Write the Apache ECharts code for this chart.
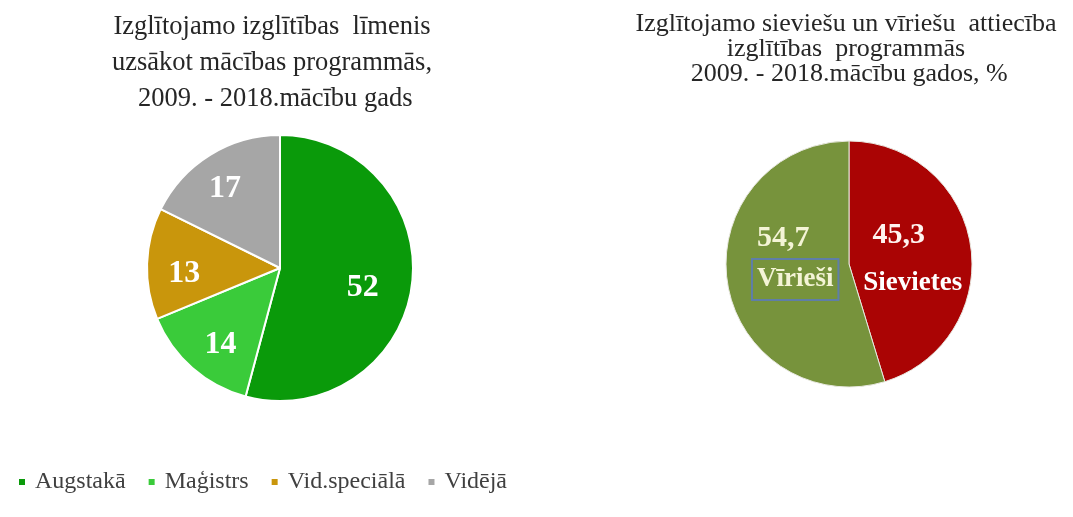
<!DOCTYPE html>
<html>
<head>
<meta charset="utf-8">
<script src="https://cdn.jsdelivr.net/npm/echarts@6/dist/echarts.min.js"></script>
<style>
  html, body { margin: 0; padding: 0; background: #fff; }
  #chart { width: 1073px; height: 517px; }
</style>
</head>
<body>
<div id="chart"></div>
<script>
// kreisais grafiks - izglitibas limenis
const levelNames = ['Augstakā', 'Maģistrs', 'Vid.speciālā', 'Vidējā']
const levelValues = [52, 14, 13, 17]
// labais grafiks - sievietes / virieši, %
const genderNames = ['Sievietes', 'Vīrieši']
const genderValues = [45.3, 54.7]
const genderLabels = ['45,3', '54,7']

const levelColors = ['#0a9a0a', '#3acb3a', '#c9960c', '#a6a6a6']
const genderColors = ['#aa0404', '#77933c']

const serif = '"Liberation Serif", "DejaVu Serif", serif'
const leftCenter = [280, 268]
const leftR = 133
const rightCenter = [849, 264]
const rightR = 123
// cik talu no centra (dala no radiusa) stav uzraksti
const leftLabelR = [0.6, 0.65, 0.69, 0.75]
// labā grafika uzrakstu nobīde
const rightLabelShift = [[0, 5], [10, -19]]

const myChart = echarts.init(document.getElementById('chart'))

const options = {
  animation: false,
  color: levelColors,
  title: [{
    text: 'Izglītojamo izglītības  līmenis\nuzsākot mācības programmās,\n 2009. - 2018.mācību gads',
    left: 272,
    top: 9,
    padding: 0,
    textAlign: 'center',
    textStyle: {
      fontFamily: serif,
      fontWeight: 'normal',
      fontSize: 26.5,
      lineHeight: 36,
      color: '#262626'
    }
  }, {
    text: 'Izglītojamo sieviešu un vīriešu  attiecība\nizglītības  programmās\n 2009. - 2018.mācību gados, %',
    left: 846,
    top: 12,
    padding: 0,
    textAlign: 'center',
    textStyle: {
      fontFamily: serif,
      fontWeight: 'normal',
      fontSize: 26,
      lineHeight: 25,
      color: '#262626'
    }
  }],
  legend: {
    data: levelNames,
    left: 17,
    top: 470,
    padding: 0,
    icon: 'rect',
    itemWidth: 8,
    itemHeight: 8,
    itemGap: 21,
    textStyle: {
      fontFamily: serif,
      fontSize: 24,
      color: '#404040',
      padding: [0, 0, 0, 4]
    }
  },
  series: [{
    type: 'pie',
    center: leftCenter,
    radius: [0, leftR],
    startAngle: 90,
    clockwise: true,
    data: levelNames.map((n, i) => ({ name: n, value: levelValues[i] })),
    itemStyle: {
      borderColor: '#ffffff',
      borderWidth: 2
    },
    label: {
      show: true,
      position: 'inside',
      formatter: '{c}',
      fontFamily: serif,
      fontWeight: 'bold',
      fontSize: 32,
      color: '#ffffff'
    },
    labelLayout: function (params) {
      const r = params.labelRect
      const lx = r.x + r.width / 2
      const ly = r.y + r.height / 2
      const k = 2 * leftLabelR[params.dataIndex] - 1
      return { dx: (lx - leftCenter[0]) * k, dy: (ly - leftCenter[1]) * k + 9 }
    },
    emphasis: { disabled: true }
  }, {
    type: 'pie',
    center: rightCenter,
    radius: [0, rightR],
    startAngle: 90,
    clockwise: true,
    data: genderNames.map((n, i) => ({
      name: n,
      value: genderValues[i],
      itemStyle: { color: genderColors[i] }
    })),
    itemStyle: {
      borderColor: '#e8e8e0',
      borderWidth: 1
    },
    label: {
      show: true,
      position: 'inside',
      formatter: function (p) {
        if (p.dataIndex === 1) {
          return '{v|' + genderLabels[1] + '}\n{box|' + p.name + '}'
        }
        return '{s|' + genderLabels[0] + '}\n{n|' + p.name + '}'
      },
      fontFamily: serif,
      fontWeight: 'bold',
      fontSize: 27,
      rich: {
        s: {
          fontFamily: serif, fontWeight: 'bold', fontSize: 30,
          color: '#fff4f0', lineHeight: 48, padding: [0, 28, 0, 0]
        },
        n: {
          fontFamily: serif, fontWeight: 'bold', fontSize: 27,
          color: '#ffffff', lineHeight: 48
        },
        v: {
          fontFamily: serif, fontWeight: 'bold', fontSize: 30,
          color: '#f4f4d6', lineHeight: 50, padding: [0, 24, 6, 0]
        },
        box: {
          fontFamily: serif, fontWeight: 'bold', fontSize: 27,
          color: '#f4f4d6',
          lineHeight: 27,
          borderColor: '#5f7ea8',
          borderWidth: 2,
          padding: [7, 5, 7, 5]
        }
      }
    },
    labelLayout: function (params) {
      const s = rightLabelShift[params.dataIndex]
      return { dx: s[0], dy: s[1] }
    },
    emphasis: { disabled: true }
  }]
}

myChart.setOption(options)
window.addEventListener('resize', () => {
  myChart.resize()
})
</script>
</body>
</html>
